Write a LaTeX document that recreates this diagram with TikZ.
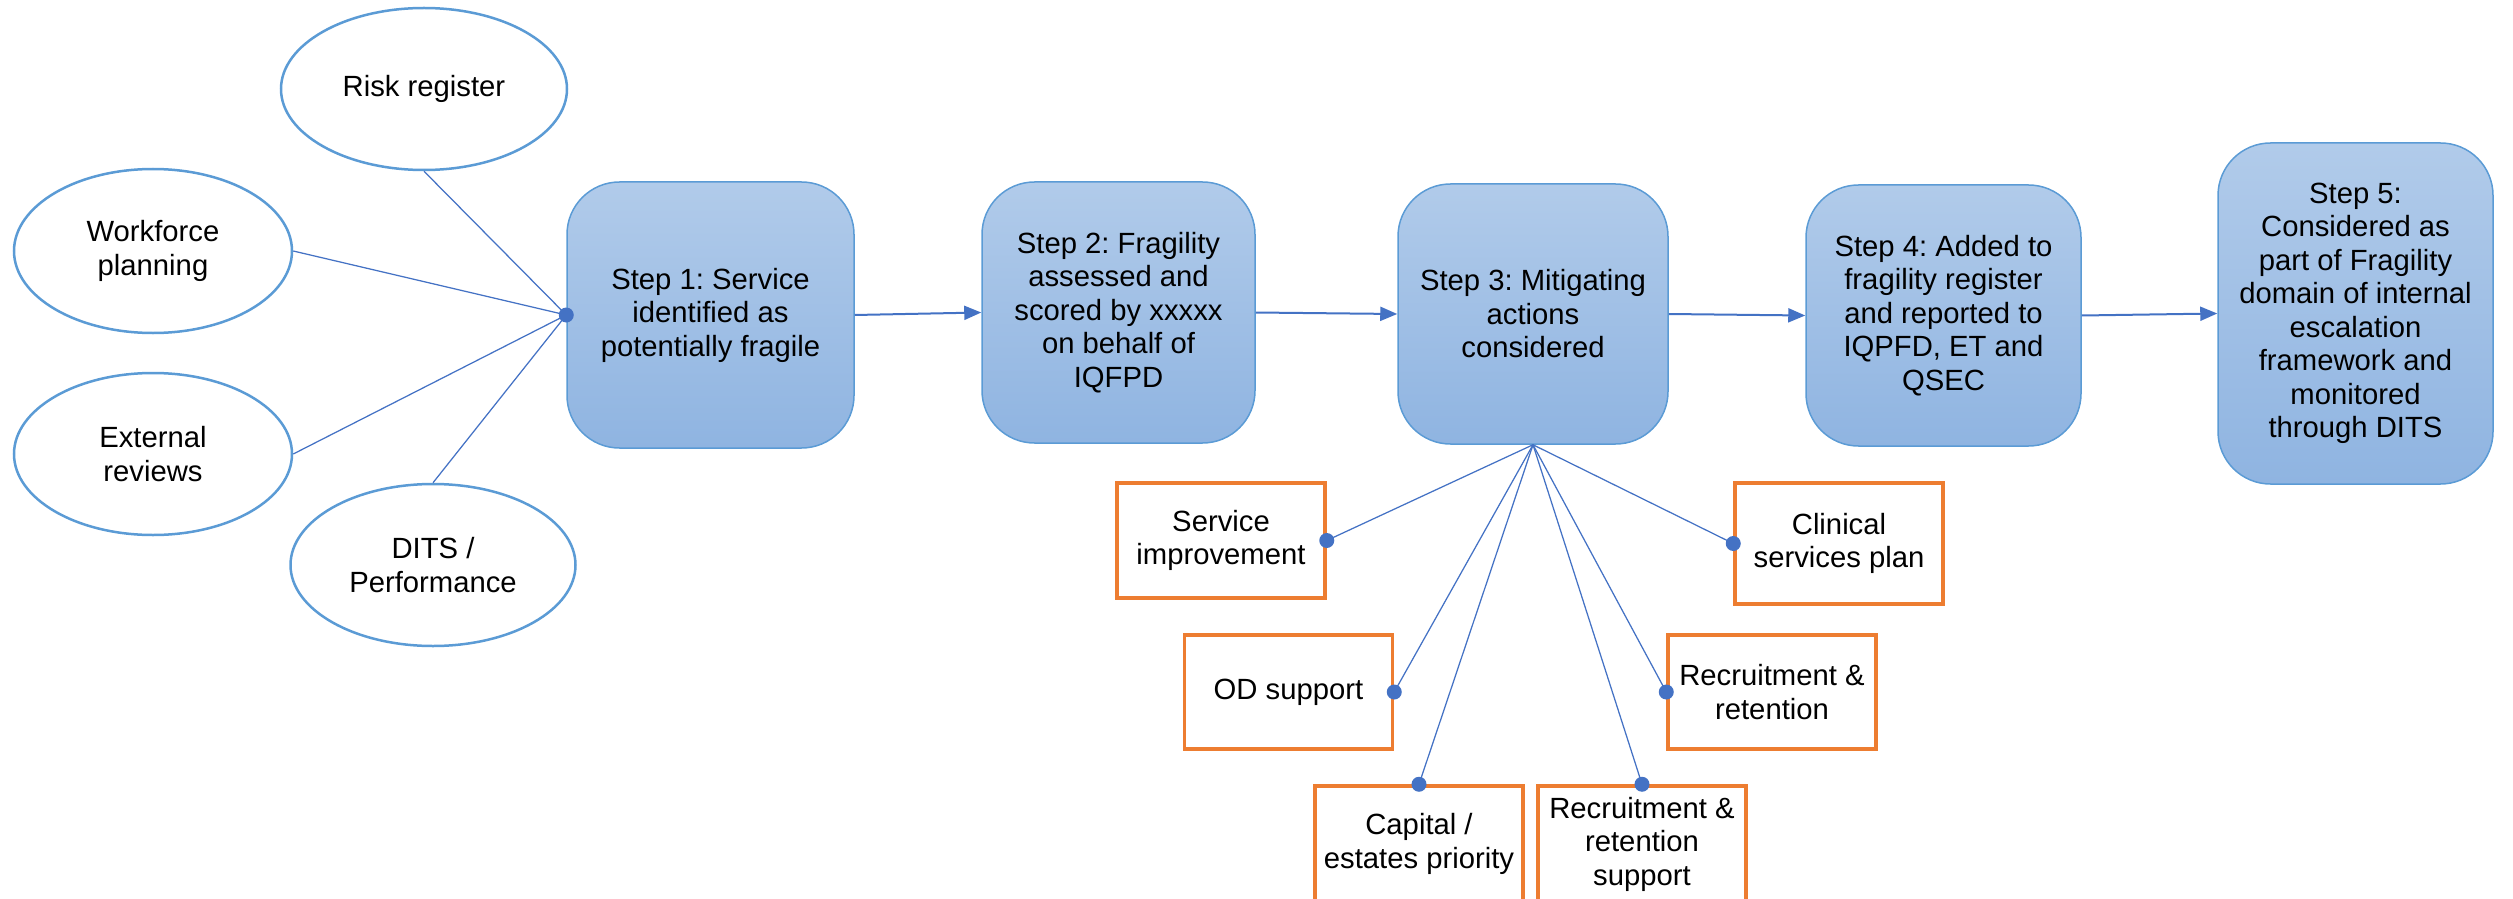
\documentclass[tikz,border=0pt]{standalone}
\usepackage{fontspec}
\setmainfont{Liberation Sans}
\usetikzlibrary{arrows.meta,shapes.geometric}
\definecolor{stepborder}{RGB}{91,155,213}
\definecolor{steptop}{RGB}{177,203,234}
\definecolor{stepbot}{RGB}{143,180,225}
\definecolor{ellborder}{RGB}{91,155,213}
\definecolor{conn}{RGB}{68,114,196}
\definecolor{orangeb}{RGB}{237,125,49}
\frenchspacing
\begin{document}
\begin{tikzpicture}[x=0.4pt,y=-0.4pt,
  every node/.style={font=\fontsize{11.7pt}{13.4pt}\selectfont\frenchspacing, align=center, text=black},
  stepbox/.style={draw=stepborder, line width=0.6pt, rounded corners=21pt, top color=steptop, bottom color=stepbot, inner sep=0pt},
  source/.style={ellipse, draw=ellborder, line width=1pt, fill=white, inner sep=0pt},
  action/.style={draw=orangeb, line width=1.4pt, fill=white, minimum width=83.2pt, inner sep=0pt},
  link/.style={draw=conn, line width=0.5pt},
  flow/.style={draw=conn, line width=0.8pt, -{Triangle[length=6.8pt,width=5.6pt]}},
  hubdot/.style={circle, fill=conn, inner sep=0pt, minimum size=6pt}
]
\useasboundingbox (0,0) rectangle (2513,899);

% step boxes
\node[stepbox, minimum width=114.8pt, minimum height=106.4pt] (s1) at (710.5,315) {Step 1: Service\\identified as\\potentially fragile};
\node[stepbox, minimum width=109.2pt, minimum height=104.4pt] (s2) at (1118.5,312.5) {Step 2: Fragility\\assessed and\\scored by xxxxx\\on behalf of\\IQFPD};
\node[stepbox, minimum width=108pt, minimum height=104pt] (s3) at (1533,314) {Step 3: Mitigating\\actions\\considered};
\node[stepbox, minimum width=110pt, minimum height=104.4pt] (s4) at (1943.5,315.5) {Step 4: Added to\\fragility register\\and reported to\\IQPFD, ET and\\QSEC};
\node[stepbox, minimum width=110pt, minimum height=136.4pt] (s5) at (2355.5,313.5) {Step 5:\\Considered as\\part of Fragility\\domain of internal\\escalation\\framework and\\monitored\\through DITS};

% sources
\node[source, minimum width=114.4pt, minimum height=64.8pt] (rr) at (424,89) {Risk register};
\node[source, minimum width=111.2pt, minimum height=65.6pt] (wf) at (153,251) {Workforce\\planning};
\node[source, minimum width=111.2pt, minimum height=64.8pt] (er) at (153,454) {External\\reviews};
\node[source, minimum width=114pt, minimum height=64.8pt] (dp) at (433,565) {DITS /\\Performance};

% actions
\node[action, minimum height=46pt] (si) at (1221,540.5) {Service\\improvement};
\node[action, minimum height=48.4pt] (cs) at (1839,543.5) {Clinical\\services plan};
\node[action, minimum height=45.6pt] (od) at (1288.5,692) {OD support};
\node[action, minimum height=45.6pt] (rr2) at (1772,692) {Recruitment \&\\retention};
\node[action, minimum height=46.4pt] (ce) at (1419,844) {Capital /\\estates priority};
\node[action, minimum height=46.4pt] (rs) at (1642,844) {Recruitment \&\\retention\\support};

% source links
\draw[link] (rr.south) -- (s1.west);
\draw[link] (wf.east) -- (s1.west);
\draw[link] (er.east) -- (s1.west);
\draw[link] (dp.north) -- (s1.west);
\node[hubdot] (d1) at (s1.west) {};

% flow arrows
\draw[flow] (s1.east) -- (s2.west);
\draw[flow] (s2.east) -- (s3.west);
\draw[flow] (s3.east) -- (s4.west);
\draw[flow] (s4.east) -- (s5.west);

% action links
\draw[link] (s3.south) -- (si.east);
\draw[link] (s3.south) -- (cs.west);
\draw[link] (s3.south) -- (od.east);
\draw[link] (s3.south) -- (rr2.west);
\draw[link] (s3.south) -- (ce.north);
\draw[link] (s3.south) -- (rs.north);
\node[hubdot] (e1) at (si.east) {};
\node[hubdot] (e2) at (cs.west) {};
\node[hubdot] (e3) at (od.east) {};
\node[hubdot] (e4) at (rr2.west) {};
\node[hubdot] (e5) at (ce.north) {};
\node[hubdot] (e6) at (rs.north) {};
\end{tikzpicture}
\end{document}
